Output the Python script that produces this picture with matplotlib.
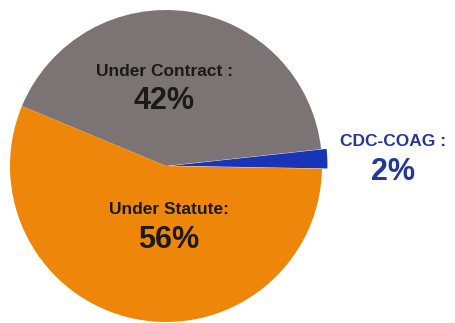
import matplotlib
matplotlib.use("Agg")
import matplotlib.pyplot as plt

# slice data (counterclockwise from the right)
labels = ["CDC-COAG :", "Under Contract :", "Under Statute:"]
shares = [2, 42, 56]
colors = ["#1a34b8", "#7b7374", "#ee8709"]
text_colors = ["#26379c", "#1a1a1a", "#1a1a1a"]

plt.rcParams['font.family'] = ['Liberation Sans', 'DejaVu Sans']

W, H = 455, 323
fig = plt.figure(figsize=(W / 100, H / 100), dpi=100)
cx, cy, r = 166, 166, 156
ax = fig.add_axes([(cx - r) / W, (H - cy - r) / H, 2 * r / W, 2 * r / H])

wedges, _ = ax.pie(shares, colors=colors, startangle=-1, counterclock=True,
                   explode=[0.035, 0, 0], radius=1, center=(0, 0),
                   wedgeprops=dict(linewidth=0))
for w in wedges:
    w.set_clip_on(False)
ax.set_xlim(-1, 1)
ax.set_ylim(-1, 1)
ax.axis('off')

# label positions in pixels (name line, value line)
pos = [((393, 142), (393, 172)),
       ((164, 71), (164, 101)),
       ((169, 210), (169, 240))]
for lab, val, tc, (p1, p2) in zip(labels, shares, text_colors, pos):
    x1, y1 = (p1[0] - cx) / r, (cy - p1[1]) / r
    x2, y2 = (p2[0] - cx) / r, (cy - p2[1]) / r
    ax.text(x1, y1, lab, ha='center', va='center', fontsize=12.5,
            fontweight='bold', color=tc, clip_on=False)
    ax.text(x2, y2, f"{val}%", ha='center', va='center', fontsize=22,
            fontweight='bold', color=tc, clip_on=False)

fig.savefig("out.png", dpi=100, facecolor='white')
